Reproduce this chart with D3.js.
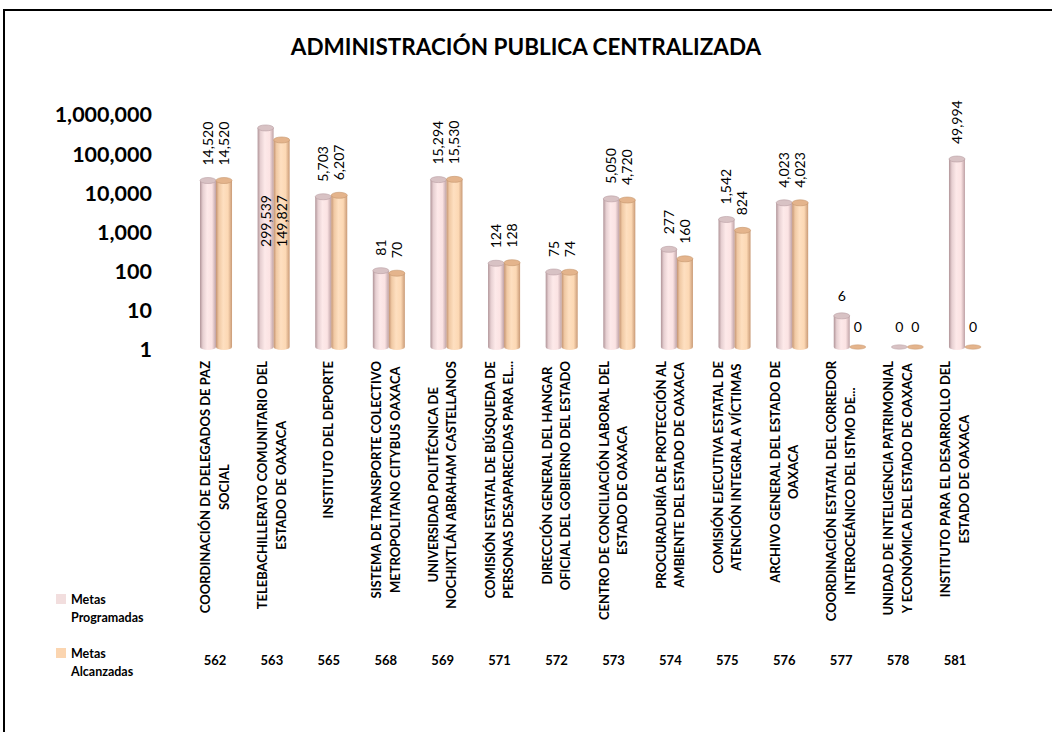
<!DOCTYPE html>
<html>
<head>
<meta charset="utf-8">
<script src="https://cdn.jsdelivr.net/npm/d3@7"></script>
<style>
  html, body { margin: 0; padding: 0; background: #fff; }
  svg { display: block; }
  text { font-family: Lato, "Open Sans", sans-serif; fill: #000; }
</style>
</head>
<body>
<svg id="chart" width="1052" height="732"></svg>
<script>
const title = "ADMINISTRACIÓN PUBLICA CENTRALIZADA";
const categories = [
  ["COORDINACIÓN DE DELEGADOS DE PAZ", "SOCIAL"],
  ["TELEBACHILLERATO COMUNITARIO DEL", "ESTADO DE  OAXACA"],
  ["INSTITUTO DEL DEPORTE"],
  ["SISTEMA DE TRANSPORTE COLECTIVO", "METROPOLITANO CITYBUS OAXACA"],
  ["UNIVERSIDAD POLITÉCNICA DE", "NOCHIXTLÁN  ABRAHAM CASTELLANOS"],
  ["COMISIÓN ESTATAL DE BÚSQUEDA DE", "PERSONAS DESAPARECIDAS PARA EL..."],
  ["DIRECCIÓN GENERAL DEL HANGAR", "OFICIAL DEL GOBIERNO DEL ESTADO"],
  ["CENTRO DE CONCILIACIÓN LABORAL DEL", "ESTADO DE OAXACA"],
  ["PROCURADURÍA  DE PROTECCIÓN AL", "AMBIENTE DEL ESTADO DE OAXACA"],
  ["COMISIÓN EJECUTIVA ESTATAL DE", "ATENCIÓN INTEGRAL A VÍCTIMAS"],
  ["ARCHIVO GENERAL DEL ESTADO DE", "OAXACA"],
  ["COORDINACIÓN ESTATAL DEL CORREDOR", "INTEROCEÁNICO DEL ISTMO DE..."],
  ["UNIDAD DE INTELIGENCIA PATRIMONIAL", "Y ECONÓMICA DEL ESTADO DE OAXACA"],
  ["INSTITUTO PARA EL DESARROLLO DEL", "ESTADO DE OAXACA"]
];
const codes = ["562","563","565","568","569","571","572","573","574","575","576","577","578","581"];
const seriesNames = [["Metas", "Programadas"], ["Metas", "Alcanzadas"]];
const metasProgramadas = [14520, 299539, 5703, 81, 15294, 124, 75, 5050, 277, 1542, 4023, 6, 0, 49994];
const metasAlcanzadas  = [14520, 149827, 6207, 70, 15530, 128, 74, 4720, 160, 824, 4023, 0, 0, 0];
const yTicks = [1, 10, 100, 1000, 10000, 100000, 1000000];

const svg = d3.select("#chart");
const fmt = d3.format(",");

// frame
svg.append("rect").attr("x", 4).attr("y", 10).attr("width", 1100).attr("height", 800)
  .attr("fill", "none").attr("stroke", "#000").attr("stroke-width", 2);

// title
svg.append("text").attr("x", 526).attr("y", 55).attr("text-anchor", "middle")
  .style("font-weight", 700).style("font-size", "22.5px").text(title);

// gradients
const defs = svg.append("defs");
const palettes = [
  { id: "gPink", stops: [["0%", "#b09498"], ["18%", "#e6cfd1"], ["45%", "#fde9e9"], ["75%", "#fbe3e3"], ["100%", "#bfa2a6"]], top: "#d8c2c4", topStroke: "#b89ea2", key: "#f2dede" },
  { id: "gOrange", stops: [["0%", "#c49372"], ["18%", "#f0c9a4"], ["45%", "#fedfc0"], ["75%", "#fcd8b4"], ["100%", "#c99a76"]], top: "#e4b48c", topStroke: "#c6976f", key: "#fbd5b0" }
];
palettes.forEach(p => {
  const g = defs.append("linearGradient").attr("id", p.id).attr("x1", "0%").attr("x2", "100%").attr("y1", "0%").attr("y2", "0%");
  p.stops.forEach(s => g.append("stop").attr("offset", s[0]).attr("stop-color", s[1]));
});

// scales
const idx = d3.range(categories.length);
const xBar = d3.scaleBand().domain(idx).range([187.2, 993.8]).paddingInner(0.444).paddingOuter(0.222);
const xSeries = d3.scaleBand().domain([0, 1]).range([0, xBar.bandwidth()]);
const xCat = d3.scaleBand().domain(idx).range([186.5, 983.5]);
const yBar = d3.scaleLog().domain([1, 1e6]).range([347, 107]).clamp(true);
const yWall = d3.scaleLog().domain([1, 1e6]).range([350, 115]);

// y axis labels
const yAxis = d3.axisLeft(yWall).tickValues(yTicks).tickFormat(fmt).tickSize(0).tickPadding(0);
const ax = svg.append("g").attr("transform", "translate(152,0)").call(yAxis);
ax.select(".domain").remove();
ax.selectAll("text").style("font-family", "Lato, sans-serif").style("font-weight", 700)
  .style("font-size", "21.5px").attr("fill", "#000");

// bars
const seriesData = [metasProgramadas, metasAlcanzadas];
const rx = xSeries.bandwidth() / 2;
const ry = 3;
seriesData.forEach((vals, s) => {
  const p = palettes[s];
  const g = svg.append("g");
  vals.forEach((v, i) => {
    const cx = xBar(i) + xSeries(s) + rx;
    const yb = yBar(1);
    const yt = v > 0 ? yBar(Math.max(v, 1)) : yb;
    if (v > 1) {
      g.append("path")
        .attr("d", `M${cx - rx},${yt} L${cx - rx},${yb} A${rx},${ry} 0 0 0 ${cx + rx},${yb} L${cx + rx},${yt} Z`)
        .attr("fill", `url(#${p.id})`);
      g.append("ellipse").attr("cx", cx).attr("cy", yt).attr("rx", rx).attr("ry", ry)
        .attr("fill", p.top).attr("stroke", p.topStroke).attr("stroke-width", 0.6);
    } else {
      g.append("ellipse").attr("cx", cx).attr("cy", yb).attr("rx", rx).attr("ry", 2.2)
        .attr("fill", p.top).attr("stroke", p.topStroke).attr("stroke-width", 0.5);
    }
  });
});

// data labels
seriesData.forEach((vals, s) => {
  const g = svg.append("g");
  vals.forEach((v, i) => {
    const cx = xBar(i) + xSeries(s) + rx;
    const yt = v > 0 ? yBar(Math.max(v, 1)) : yBar(1);
    const label = fmt(v);
    if (label.length === 1) {
      g.append("text").attr("x", cx).attr("y", yt - 15).attr("text-anchor", "middle")
        .style("font-size", "14px").text(label);
    } else {
      const t = g.append("text").style("font-size", "14px").text(label);
      const len = t.node().getComputedTextLength();
      let ty = yt - 15, anchor = "start";
      if (ty - len < 100) { ty = 221; anchor = "middle"; }
      t.attr("text-anchor", anchor).attr("dy", "0.35em")
        .attr("transform", `translate(${cx},${ty}) rotate(-90)`);
    }
  });
});

// category labels (rotated, centered lines)
const catG = svg.append("g");
categories.forEach((lines, i) => {
  const cx = xCat(i) + xCat.bandwidth() / 2;
  const g = catG.append("g");
  const texts = lines.map(l => g.append("text").style("font-weight", 700).style("font-size", "13px")
    .attr("text-anchor", "middle").text(l));
  const maxLen = d3.max(texts, t => t.node().getComputedTextLength());
  const n = lines.length, lh = 18.5;
  texts.forEach((t, k) => {
    const lx = cx + (k - (n - 1) / 2) * lh;
    t.attr("dy", "0.35em").attr("transform", `translate(${lx},${361 + maxLen / 2}) rotate(-90)`);
  });
});

// codes row
svg.append("g").selectAll("text").data(codes).join("text")
  .attr("x", (d, i) => xCat(i) + xCat.bandwidth() / 2).attr("y", 665)
  .attr("text-anchor", "middle").style("font-weight", 700).style("font-size", "13px").text(d => d);

// legend
const legY = [594, 648];
seriesNames.forEach((nm, s) => {
  svg.append("rect").attr("x", 56).attr("y", legY[s]).attr("width", 10).attr("height", 10)
    .attr("fill", palettes[s].key);
  nm.forEach((w, k) => {
    svg.append("text").attr("x", 71).attr("y", legY[s] + 10 + k * 18)
      .style("font-weight", 700).style("font-size", "12.5px").text(w);
  });
});
</script>
</body>
</html>
